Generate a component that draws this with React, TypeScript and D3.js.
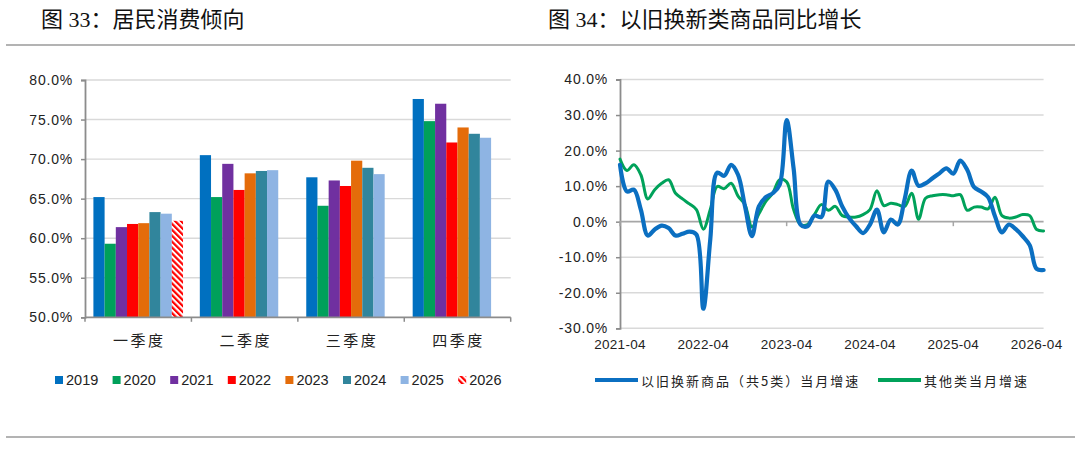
import { useEffect, useRef } from 'react'
import * as d3 from 'd3'

// 图33 居民消费倾向（%）
const QUARTERS = ['一季度', '二季度', '三季度', '四季度']
const YEARS = ['2019', '2020', '2021', '2022', '2023', '2024', '2025', '2026']
const Y2019 = [65.2, 70.5, 67.7, 77.6]
const Y2020 = [59.3, 65.2, 64.1, 74.8]
const Y2021 = [61.4, 69.4, 67.3, 77.0]
const Y2022 = [61.8, 66.1, 66.6, 72.1]
const Y2023 = [61.9, 68.2, 69.8, 74.0]
const Y2024 = [63.3, 68.5, 68.9, 73.2]
const Y2025 = [63.1, 68.6, 68.1, 72.7]
const Y2026 = [62.2, null, null, null]
const BAR_SERIES: (number | null)[][] = [Y2019, Y2020, Y2021, Y2022, Y2023, Y2024, Y2025, Y2026]
const YEAR_COLORS = ['#0070C0', '#00A05A', '#7030A0', '#FF0000', '#E46C0A', '#31859C', '#8EB4E3', '#FF0000']
const BAR_TICKS = [50, 55, 60, 65, 70, 75, 80]

// 图34 以旧换新类商品同比增长（%），2021-04 起逐月
const MONTH_LABELS = ['2021-04', '2022-04', '2023-04', '2024-04', '2025-04', '2026-04']
const MONTH_LABEL_IDX = [0, 12, 24, 36, 48, 60]
const MONTH_MAJOR_IDX = [0, 24, 48]
const OLD_FOR_NEW = [
  16.0, 8.5, 9.0, 3.4, -3.9, -2.2, -1.1, -1.8, -3.9, -3.4, -2.8, -3.6,
  -24.5, -5.0, 13.8, 12.9, 16.0, 13.2, 4.3, -4.1, 4.3, 6.9, 8.0, 10.4,
  28.6, 15.0, -0.8, -1.3, 1.7, 1.3, 11.3, 9.0, 4.3, 1.0, -1.3, -3.2,
  -0.8, 3.4, -3.0, 0.6, -0.8, 6.4, 14.4, 10.1, 10.8, 12.2, 13.6, 15.0,
  13.5, 17.2, 14.6, 9.7, 8.5, 6.9, 1.5, -3.0, -0.8, -2.1, -4.1, -6.6,
  -13.3, -13.6,
]
const OTHER_GOODS = [
  17.6, 14.4, 16.0, 13.2, 6.4, 9.0, 10.8, 11.8, 8.0, 6.4, 5.0, 3.4,
  -2.1, 3.4, 9.9, 9.3, 10.8, 7.2, 4.8, -1.5, 2.2, 5.7, 8.0, 11.8,
  11.2, 3.4, -0.8, -0.8, 2.0, 4.8, 3.2, 4.3, 1.7, 1.3, 1.3, 2.0,
  3.4, 8.7, 4.5, 5.2, 4.8, 4.3, 8.0, 0.7, 6.6, 7.3, 7.6, 7.6,
  7.3, 7.6, 3.2, 4.1, 4.1, 3.6, 6.9, 1.7, 1.0, 1.3, 2.0, 1.7,
  -2.2, -2.6,
]
const LINE_TICKS = [-30, -20, -10, 0, 10, 20, 30, 40]
const LINE_SERIES = [
  { name: '以旧换新商品（共5类）当月增速', values: OLD_FOR_NEW, color: '#0B6FC1', width: 4.2 },
  { name: '其他类当月增速', values: OTHER_GOODS, color: '#00A25A', width: 3 },
]

const CJK = "'Noto Sans CJK SC', sans-serif"
const NUM = "'Liberation Sans', Arial, sans-serif"
const TITLE = "'Liberation Serif', 'Noto Sans CJK SC', serif"
const GRID = '#d9d9d9'
const AXIS = '#8c8c8c'

export default function App() {
  const svgRef = useRef<SVGSVGElement>(null)

  useEffect(() => {
    document.body.style.margin = '0'
    const svgEl = svgRef.current
    if (!svgEl) return
    const svg = d3.select(svgEl)
    svg.selectAll('*').remove()

    const defs = svg.append('defs')
    const pat = defs.append('pattern')
      .attr('id', 'hatch26')
      .attr('patternUnits', 'userSpaceOnUse')
      .attr('width', 4.2).attr('height', 4.2)
      .attr('patternTransform', 'rotate(-45)')
    pat.append('rect').attr('width', 4.2).attr('height', 4.2).attr('fill', '#fff')
    pat.append('rect').attr('width', 2.2).attr('height', 4.2).attr('fill', '#FF0000')

    // header / footer rules and titles
    svg.append('line').attr('x1', 6).attr('x2', 1075).attr('y1', 45).attr('y2', 45)
      .attr('stroke', '#9a9a9a').attr('stroke-width', 1.5)
    svg.append('line').attr('x1', 6).attr('x2', 1075).attr('y1', 437).attr('y2', 437)
      .attr('stroke', '#9a9a9a').attr('stroke-width', 1.5)
    svg.append('text').attr('x', 41).attr('y', 27)
      .attr('font-family', TITLE).attr('font-size', 22).attr('fill', '#111')
      .text('图 33：居民消费倾向')
    svg.append('text').attr('x', 548).attr('y', 27)
      .attr('font-family', TITLE).attr('font-size', 22).attr('fill', '#111')
      .text('图 34：以旧换新类商品同比增长')

    // ---------- left: grouped bars ----------
    const bx0 = d3.scaleBand<string>().domain(QUARTERS).range([85, 510.7]).padding(0)
    const bx1 = d3.scaleBand<string>().domain(YEARS).range([0, bx0.bandwidth()])
      .paddingInner(0).paddingOuter(0.75)
    const by = d3.scaleLinear().domain([50, 80]).range([317.3, 80])

    const left = svg.append('g')
    left.selectAll('.grid').data(BAR_TICKS.filter(t => t > 50)).join('line')
      .attr('x1', 85).attr('x2', 510.7)
      .attr('y1', d => by(d)).attr('y2', d => by(d))
      .attr('stroke', GRID).attr('stroke-width', 1.4)

    YEARS.forEach((yr, yi) => {
      const vals = BAR_SERIES[yi]
      left.append('g').selectAll('rect')
        .data(QUARTERS.map((q, qi) => ({ q, v: vals[qi] })).filter(d => d.v != null))
        .join('rect')
        .attr('x', d => (bx0(d.q) ?? 0) + (bx1(yr) ?? 0))
        .attr('width', bx1.bandwidth())
        .attr('y', d => by(d.v as number))
        .attr('height', d => by(50) - by(d.v as number))
        .attr('fill', yr === '2026' ? 'url(#hatch26)' : YEAR_COLORS[yi])
    })

    const yAxisL = d3.axisLeft(by).tickValues(BAR_TICKS).tickSize(4).tickPadding(8)
      .tickFormat(d => `${(d as number).toFixed(1)}%`)
    left.append('g').attr('transform', 'translate(85,0)').call(yAxisL)
      .call(g => g.select('.domain').attr('stroke', AXIS).attr('stroke-width', 1.8))
      .call(g => g.selectAll('line').attr('stroke', AXIS).attr('stroke-width', 1.5))
      .call(g => g.selectAll('text').attr('font-family', NUM).attr('font-size', 14)
        .attr('letter-spacing', 0.8).attr('fill', '#222'))

    left.append('line').attr('x1', 85).attr('x2', 510.7).attr('y1', by(50)).attr('y2', by(50))
      .attr('stroke', AXIS).attr('stroke-width', 1.8)
    left.selectAll('.qtick').data([...QUARTERS.map(q => bx0(q) ?? 0), 510.7]).join('line')
      .attr('x1', d => d).attr('x2', d => d)
      .attr('y1', by(50)).attr('y2', by(50) + 4.5)
      .attr('stroke', AXIS).attr('stroke-width', 1.5)
    left.selectAll('.qlabel').data(QUARTERS).join('text')
      .attr('x', d => (bx0(d) ?? 0) + bx0.bandwidth() / 2 + 1)
      .attr('y', 339).attr('dominant-baseline', 'central').attr('text-anchor', 'middle')
      .attr('font-family', CJK).attr('font-size', 15).attr('letter-spacing', 2.5).attr('fill', '#222')
      .text(d => d)

    // legend
    const legL = left.append('g')
    YEARS.forEach((yr, i) => {
      const x = 55 + i * 57.6
      legL.append('rect').attr('x', x).attr('y', 376).attr('width', 8).attr('height', 8)
        .attr('fill', yr === '2026' ? 'url(#hatch26)' : YEAR_COLORS[i])
      legL.append('text').attr('x', x + 11).attr('y', 380).attr('dominant-baseline', 'central')
        .attr('font-family', NUM).attr('font-size', 14.5).attr('fill', '#222').text(yr)
    })

    // ---------- right: smoothed lines ----------
    const n = OLD_FOR_NEW.length
    const lx = d3.scaleLinear().domain([0, n - 1]).range([620, 620 + (n - 1) * 6.944])
    const ly = d3.scaleLinear().domain([-30, 40]).range([328.3, 79.5])
    const right = svg.append('g')
    const xEnd = lx(n - 1)

    right.selectAll('.grid').data(LINE_TICKS.filter(t => t !== 0)).join('line')
      .attr('x1', 620).attr('x2', xEnd)
      .attr('y1', d => ly(d)).attr('y2', d => ly(d))
      .attr('stroke', GRID).attr('stroke-width', 1.4)

    const yAxisR = d3.axisLeft(ly).tickValues(LINE_TICKS).tickSize(4).tickPadding(8)
      .tickFormat(d => `${(d as number).toFixed(1)}%`)
    right.append('g').attr('transform', 'translate(620,0)').call(yAxisR)
      .call(g => g.select('.domain').attr('stroke', AXIS).attr('stroke-width', 1.8))
      .call(g => g.selectAll('line').attr('stroke', AXIS).attr('stroke-width', 1.5))
      .call(g => g.selectAll('text').attr('font-family', NUM).attr('font-size', 14)
        .attr('letter-spacing', 0.8).attr('fill', '#222'))

    right.append('line').attr('x1', 620).attr('x2', xEnd).attr('y1', ly(0)).attr('y2', ly(0))
      .attr('stroke', '#a6a6a6').attr('stroke-width', 1.6)
    right.selectAll('.mtick').data(MONTH_MAJOR_IDX).join('line')
      .attr('x1', d => lx(d)).attr('x2', d => lx(d))
      .attr('y1', ly(0)).attr('y2', ly(0) + 4.5)
      .attr('stroke', '#a6a6a6').attr('stroke-width', 1.5)
    right.selectAll('.mlabel').data(MONTH_LABEL_IDX).join('text')
      .attr('x', d => lx(d)).attr('y', 344)
      .attr('dominant-baseline', 'central').attr('text-anchor', 'middle')
      .attr('font-family', NUM).attr('font-size', 13.5).attr('letter-spacing', 0.3).attr('fill', '#222')
      .text((_, i) => MONTH_LABELS[i])

    const line = d3.line<number>()
      .x((_, i) => lx(i))
      .y(d => ly(d))
      .curve(d3.curveCatmullRom.alpha(0.5))

    ;[...LINE_SERIES].reverse().forEach(s => {
      right.append('path').attr('d', line(s.values))
        .attr('fill', 'none').attr('stroke', s.color).attr('stroke-width', s.width)
        .attr('stroke-linejoin', 'round').attr('stroke-linecap', 'round')
    })

    // legend
    const legR = right.append('g')
    const legX = [595, 878]
    LINE_SERIES.forEach((s, i) => {
      legR.append('line').attr('x1', legX[i]).attr('x2', legX[i] + 43).attr('y1', 380).attr('y2', 380)
        .attr('stroke', s.color).attr('stroke-width', 4)
      legR.append('text').attr('x', legX[i] + 46).attr('y', 380).attr('dominant-baseline', 'central')
        .attr('font-family', CJK).attr('font-size', 13).attr('letter-spacing', 2).attr('fill', '#222')
        .text(s.name)
    })
  }, [])

  return <svg ref={svgRef} width={1080} height={450} style={{ display: 'block', background: '#fff' }} />
}
